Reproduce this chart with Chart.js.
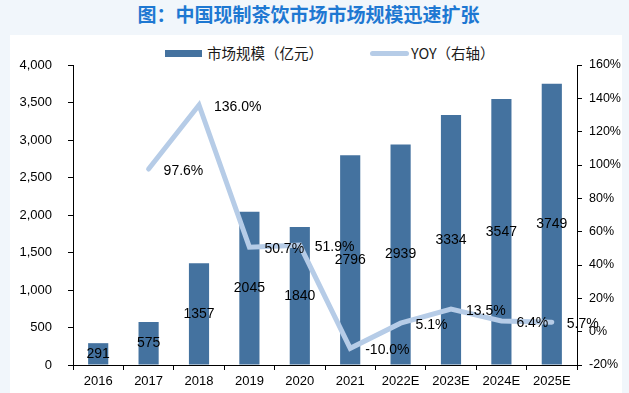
<!DOCTYPE html>
<html>
<head>
<meta charset="utf-8">
<script src="https://cdn.jsdelivr.net/npm/chart.js@4"></script>
<style>
  html,body{margin:0;padding:0;}
  body{width:629px;height:393px;position:relative;overflow:hidden;background:#F1F6FB;}
  #panel{position:absolute;left:10px;top:35px;width:612px;height:358px;background:#fff;}
  #title{position:absolute;left:0;top:3px;width:617px;text-align:center;font:bold 19px "Noto Sans CJK SC";line-height:22px;color:#1E78D2;}
  .lg{position:absolute;font:14.5px "Noto Sans CJK SC";line-height:16px;color:#1a1a1a;white-space:nowrap;}
  #c{position:absolute;left:0;top:0;}
</style>
</head>
<body>
<div id="panel"></div>
<div id="title">图：中国现制茶饮市场市场规模迅速扩张</div>
<div id="legend"></div>
<canvas id="c" width="629" height="393"></canvas>
<script>
const categories = ['2016','2017','2018','2019','2020','2021','2022E','2023E','2024E','2025E'];
const marketSize = [291, 575, 1357, 2045, 1840, 2796, 2939, 3334, 3547, 3749];
const yoy = [null, 97.6, 136.0, 50.7, 51.9, -10.0, 5.1, 13.5, 6.4, 5.7];
const seriesNames = ['市场规模（亿元）', 'YOY（右轴）'];
const chartTitle = '图：中国现制茶饮市场市场规模迅速扩张';

const barColor = '#44729F';
const lineColor = '#B6CCE7';

document.getElementById('title').textContent = chartTitle;

// legend (HTML)
const lg = document.getElementById('legend');
function add(style, text){
  const d = document.createElement('div');
  d.className = 'lg';
  Object.assign(d.style, style);
  if (text) d.textContent = text;
  lg.appendChild(d);
}
add({left:'165px', top:'50px', width:'37px', height:'7px', background:barColor});
add({left:'207px', top:'45px'}, seriesNames[0]);
add({left:'370px', top:'51px', width:'39px', height:'5px', background:lineColor, borderRadius:'3px'});
add({left:'411px', top:'45px'}, seriesNames[1]);

const labelPlugin = {
  id: 'valueLabels',
  afterDatasetsDraw(chart){
    const ctx = chart.ctx;
    ctx.save();
    ctx.font = '14px "Liberation Sans"';
    ctx.fillStyle = '#000';
    ctx.textBaseline = 'middle';
    const barMeta = chart.getDatasetMeta(0);
    barMeta.data.forEach((el, i) => {
      const p = el.getProps(['x','y','base'], true);
      ctx.textAlign = 'center';
      ctx.fillText(String(marketSize[i]), p.x, (p.y + p.base) / 2);
    });
    const lineMeta = chart.getDatasetMeta(1);
    lineMeta.data.forEach((el, i) => {
      if (yoy[i] === null) return;
      ctx.textAlign = 'left';
      ctx.fillText(yoy[i].toFixed(1) + '%', el.x + 15, el.y + 2);
    });
    ctx.restore();
  }
};

const fmt = v => v.toLocaleString('en-US');

new Chart(document.getElementById('c'), {
  data: {
    labels: categories,
    datasets: [
      {type:'bar', label:seriesNames[0], data:marketSize, backgroundColor:barColor,
       barPercentage:0.4, categoryPercentage:1.0, yAxisID:'y', order:2},
      {type:'line', label:seriesNames[1], data:yoy, borderColor:lineColor, backgroundColor:lineColor,
       borderWidth:5, pointRadius:0, pointHoverRadius:0, borderCapStyle:'round', borderJoinStyle:'miter',
       tension:0, yAxisID:'y1', order:1}
    ]
  },
  options: {
    responsive:false,
    animation:false,
    devicePixelRatio:1,
    layout:{padding:{top:65, left:0, right:0, bottom:0}},
    plugins:{legend:{display:false}, title:{display:false}, tooltip:{enabled:false}},
    scales:{
      x:{
        offset:true,
        grid:{display:true, drawOnChartArea:false, drawTicks:true, tickLength:5, color:'#000', offset:true},
        border:{display:true, color:'#000', width:1},
        ticks:{color:'#000', font:{size:13, family:'Liberation Sans'}, padding:4, maxRotation:0, autoSkip:false},
        afterFit(a){ a.height = 28; }
      },
      y:{
        position:'left', min:0, max:4000,
        grid:{display:true, drawOnChartArea:false, drawTicks:true, tickLength:5, color:'#000'},
        border:{display:true, color:'#000', width:1},
        ticks:{stepSize:500, color:'#000', font:{size:13, family:'Liberation Sans'}, padding:16, callback:v => fmt(v)},
        afterFit(a){ a.width = 73; }
      },
      y1:{
        position:'right', min:-20, max:160,
        grid:{display:true, drawOnChartArea:false, drawTicks:true, tickLength:5, color:'#000'},
        border:{display:true, color:'#000', width:1},
        ticks:{stepSize:20, color:'#000', font:{size:12.5, family:'Liberation Sans'}, padding:7, callback:v => v + '%'},
        afterFit(a){ a.width = 52; }
      }
    }
  },
  plugins:[labelPlugin]
});
</script>
</body>
</html>
